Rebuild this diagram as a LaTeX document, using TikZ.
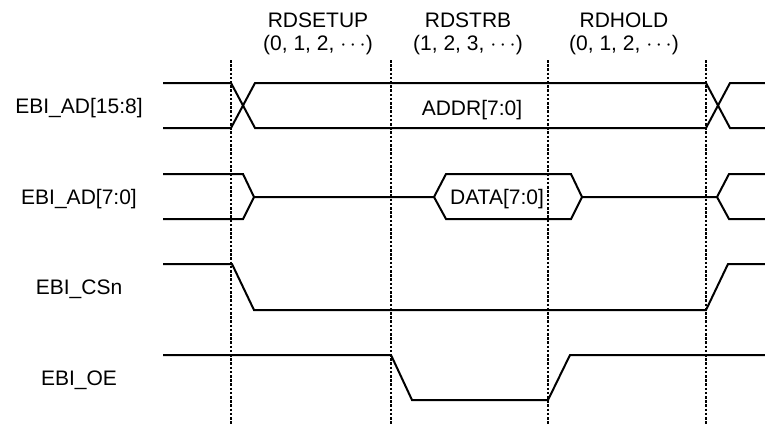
\documentclass[tikz,border=0pt]{standalone}
\usepackage{fontspec}
\setmainfont{Liberation Sans}
\tikzset{
  sig/.style={line width=1pt},
  guide/.style={line width=0.8pt,dash pattern=on 1.3pt off 0.8pt},
  lbl/.style={inner sep=0pt,anchor=base,font=\fontsize{10.5}{12}\selectfont}
}
\begin{document}
\begin{tikzpicture}[x=0.5pt,y=-0.5pt]
            \useasboundingbox (0,0) rectangle (765,424);
            \foreach \t in {231,391,548,706}
                \draw[guide] (\t,60)--(\t,424);
            \node[lbl] (setup) at (318,27) {RDSETUP};
            \node[lbl] (setupn) at (318,50) {(0, 1, 2, $\cdots$)};
            \node[lbl] (strb) at (468,27) {RDSTRB};
            \node[lbl] (strbn) at (468,50) {(1, 2, 3, $\cdots$)};
            \node[lbl] (hold) at (624,27) {RDHOLD};
            \node[lbl] (holdn) at (624,50) {(0, 1, 2, $\cdots$)};
            \node[lbl] (adhi) at (79,113) {EBI\_AD[15:8]};
            \node[lbl] (adlo) at (79,204) {EBI\_AD[7:0]};
            \node[lbl] (csn) at (79,294) {EBI\_CSn};
            \node[lbl] (oe) at (79,385) {EBI\_OE};
            \draw[sig](163,83)--(231,83)--(255,128)--(706,128)--(730,83)--(765,83);
            \draw[sig](163,128)--(231,128)--(255,83)--(706,83)--(730,128)--(765,128);
            \node[lbl] (addr) at (472,115) {ADDR[7:0]};
            \draw[sig](163,174)--(243,174)--(254,197)--(434,197)--(446,174)--(571,174)--(582,197)--(717,197)--(729,174)--(765,174);
            \draw[sig](163,219)--(243,219)--(254,197);
            \draw[sig](434,197)--(446,219)--(571,219)--(582,197);
            \draw[sig](717,197)--(729,219)--(765,219);
            \node[lbl] (data) at (497,204) {DATA[7:0]};
            \draw[sig](163,264)--(232,264)--(254,310)--(706,310)--(728,264)--(765,264);
            \draw[sig](163,355)--(391,355)--(412,400)--(548,400)--(570,355)--(765,355);
        \end{tikzpicture}
\end{document}
